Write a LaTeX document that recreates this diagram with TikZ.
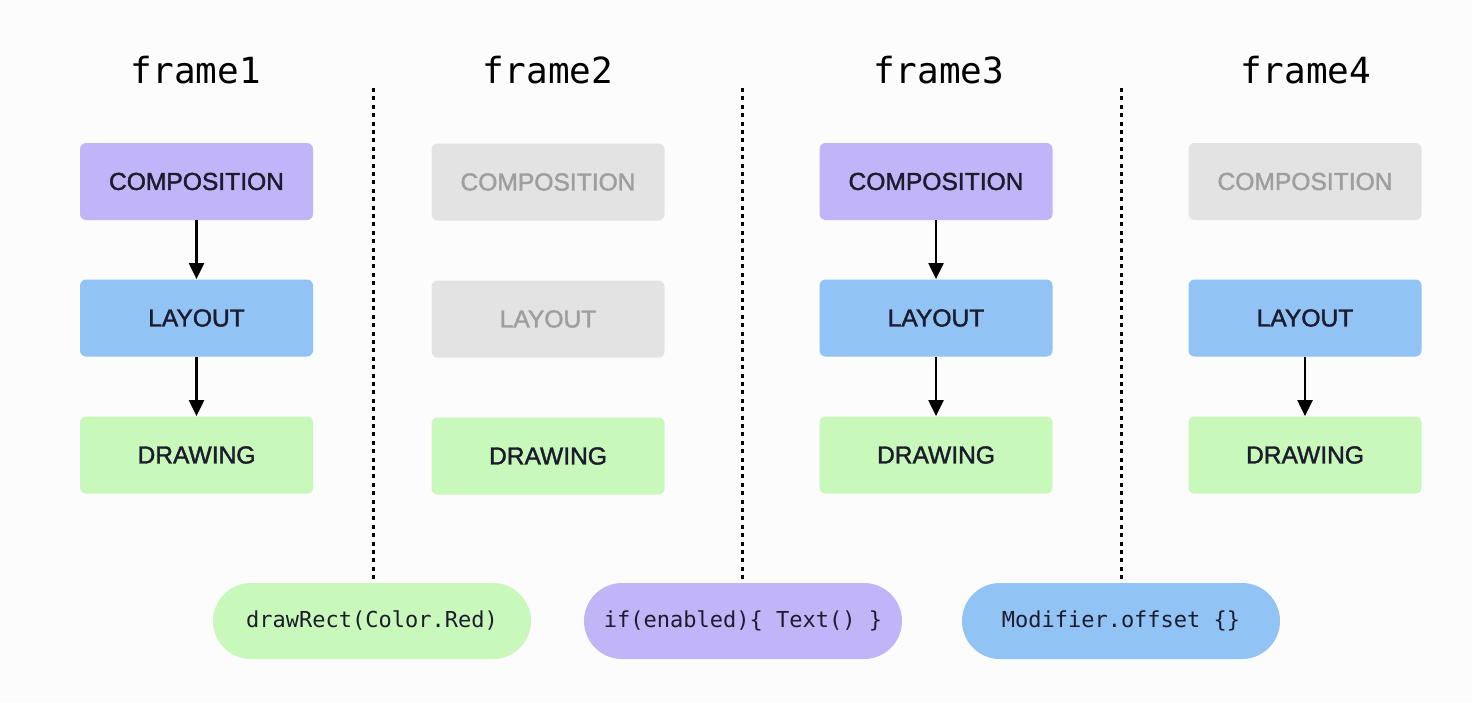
\documentclass[tikz,border=0pt]{standalone}
\usepackage{fontspec}
\setmainfont{Liberation Sans}
\setmonofont{DejaVu Sans Mono}
\newfontfamily\boxfont[FakeBold=1.6]{Liberation Sans}
\usetikzlibrary{arrows.meta,positioning}

\definecolor{compo}{HTML}{C1B5F7}
\definecolor{lay}{HTML}{92C3F5}
\definecolor{drw}{HTML}{C8F9BA}
\definecolor{idle}{HTML}{E3E3E3}
\definecolor{idletext}{HTML}{9E9E9E}
\definecolor{ink}{HTML}{1C1C2E}
\definecolor{paper}{HTML}{FCFCFC}

\tikzset{
  phase/.style={rectangle, rounded corners=3pt, minimum width=116.5pt, minimum height=38.5pt,
    inner sep=0pt, text=ink, font=\boxfont\fontsize{12.3}{14}\selectfont},
  skipped/.style={phase, fill=idle, text=idletext},
  title/.style={font=\ttfamily\fontsize{18}{20}\selectfont, text=black},
  change/.style={rectangle, rounded corners=19pt, minimum width=159pt, minimum height=38pt,
    inner sep=0pt, text=ink, font=\ttfamily\fontsize{11}{13}\selectfont},
  flow/.style={-{Triangle[length=8pt,width=7.5pt]}, line width=1.1pt},
  divider/.style={line width=1.5pt, dash pattern=on 2pt off 2.2pt}
}

\begin{document}
\begin{tikzpicture}[x=0.5pt, y=-0.5pt]
\fill[paper] (0,0) rectangle (1472,702);
\useasboundingbox (0,0) rectangle (1472,702);

% titles
\node[title] (t1) at (196,70) {frame1};
\node[title] (t2) at (548,70) {frame2};
\node[title] (t3) at (939,70) {frame3};
\node[title] (t4) at (1306,70) {frame4};

% frame1
\node[phase, fill=compo] (c1) at (196.5,181.5) {COMPOSITION};
\node[phase, fill=lay] (l1) at (196.5,318) {LAYOUT};
\node[phase, fill=drw] (d1) at (196.5,455) {DRAWING};
\draw[flow] (c1) -- (l1);
\draw[flow] (l1) -- (d1);

% frame2
\node[skipped] (c2) at (548,182) {COMPOSITION};
\node[skipped] (l2) at (548,319) {LAYOUT};
\node[phase, fill=drw] (d2) at (548,456) {DRAWING};

% frame3
\node[phase, fill=compo] (c3) at (936,181.5) {COMPOSITION};
\node[phase, fill=lay] (l3) at (936,318) {LAYOUT};
\node[phase, fill=drw] (d3) at (936,455) {DRAWING};
\draw[flow] (c3) -- (l3);
\draw[flow] (l3) -- (d3);

% frame4
\node[skipped] (c4) at (1305,181.5) {COMPOSITION};
\node[phase, fill=lay] (l4) at (1305,318) {LAYOUT};
\node[phase, fill=drw] (d4) at (1305,455) {DRAWING};
\draw[flow] (l4) -- (d4);

% changes
\node[change, fill=drw] (p1) at (372,621) {drawRect(Color.Red)};
\node[change, fill=compo] (p2) at (743,621) {if(enabled)\{ Text() \}};
\node[change, fill=lay] (p3) at (1121,621) {Modifier.offset \{\}};

% dividers
\coordinate (s1) at (373,88);
\coordinate (s2) at (742,88);
\coordinate (s3) at (1121,88);
\draw[divider] (s1) -- (s1 |- p1.north);
\draw[divider] (s2) -- (s2 |- p2.north);
\draw[divider] (s3) -- (s3 |- p3.north);
\end{tikzpicture}
\end{document}
